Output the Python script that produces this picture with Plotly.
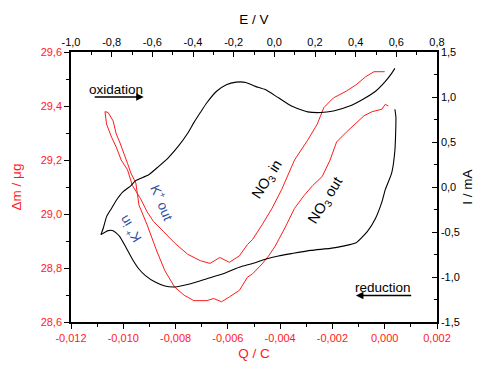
import plotly.graph_objects as go

# EQCM: mass change vs. charge (red, bottom/left axes)
charge_c = [
    0.00000, -0.00041, -0.00072, -0.00109, -0.00147, -0.00196, -0.00233, -0.00258, -0.00295, -0.00345,
    -0.00394, -0.00431, -0.00469, -0.00506, -0.00525, -0.00556, -0.00594, -0.00631, -0.00668, -0.00705,
    -0.00754, -0.00804, -0.00847, -0.00884, -0.00909, -0.00934, -0.00965, -0.00971, -0.00984, -0.01008,
    -0.01027, -0.01045, -0.01064, -0.01070, -0.01058, -0.01039, -0.01027, -0.01014, -0.00996, -0.00984,
    -0.00971, -0.00952, -0.00940, -0.00909, -0.00872, -0.00841, -0.00804, -0.00767, -0.00730, -0.00680,
    -0.00655, -0.00624, -0.00594, -0.00556, -0.00525, -0.00506, -0.00469, -0.00444, -0.00419, -0.00382,
    -0.00345, -0.00308, -0.00276, -0.00239, -0.00209, -0.00184, -0.00147, -0.00109, -0.00079, -0.00048,
    -0.00011, 0.00002, 0.00014,
]
mass_ug = [
    29.527, 29.527, 29.509, 29.479, 29.455, 29.430, 29.394, 29.333, 29.273, 29.200,
    29.091, 29.021, 28.960, 28.905, 28.887, 28.845, 28.821, 28.839, 28.817, 28.827,
    28.851, 28.893, 28.936, 28.972, 29.008, 29.057, 29.105, 29.127, 29.164, 29.200,
    29.248, 29.285, 29.333, 29.379, 29.376, 29.345, 29.297, 29.267, 29.224, 29.188,
    29.152, 29.115, 29.033, 28.960, 28.863, 28.790, 28.730, 28.699, 28.679, 28.679,
    28.687, 28.675, 28.693, 28.717, 28.766, 28.778, 28.815, 28.845, 28.881, 28.948,
    29.021, 29.069, 29.105, 29.139, 29.200, 29.267, 29.303, 29.339, 29.364, 29.379,
    29.388, 29.406, 29.400,
]

# Cyclic voltammogram (black, top/right axes): anodic and cathodic sweeps
e_anodic = [
    -0.853, -0.841, -0.825, -0.801, -0.777, -0.746, -0.705, -0.682, -0.618, -0.570,
    -0.523, -0.475, -0.427, -0.395, -0.364, -0.332, -0.284, -0.236, -0.188, -0.141,
    -0.093, -0.044, 0.020, 0.084, 0.164, 0.227, 0.291, 0.370, 0.434, 0.498,
    0.546, 0.577, 0.593,
]
i_anodic = [
    -0.529, -0.456, -0.329, -0.238, -0.147, -0.057, 0.016, 0.071, 0.136, 0.227,
    0.322, 0.445, 0.595, 0.718, 0.827, 0.936, 1.064, 1.137, 1.165, 1.162,
    1.118, 1.082, 0.991, 0.900, 0.835, 0.827, 0.845, 0.900, 0.973, 1.064,
    1.173, 1.263, 1.318,
]
e_cathodic = [
    0.593, 0.598, 0.593, 0.577, 0.546, 0.529, 0.498, 0.458, 0.402, 0.338,
    0.275, 0.179, 0.084, 0.020, -0.044, -0.107, -0.173, -0.252, -0.332, -0.411,
    -0.491, -0.538, -0.586, -0.634, -0.666, -0.698, -0.729, -0.761, -0.793, -0.817,
    -0.853,
]
i_cathodic = [
    0.864, 0.772, 0.409, 0.155, -0.027, -0.166, -0.347, -0.493, -0.620, -0.657,
    -0.682, -0.704, -0.740, -0.766, -0.802, -0.849, -0.892, -0.965, -1.020, -1.075,
    -1.111, -1.100, -1.056, -0.984, -0.911, -0.802, -0.674, -0.548, -0.485, -0.485,
    -0.529,
]

# Tick values and labels (decimal comma)
q_ticks = [-0.012, -0.010, -0.008, -0.006, -0.004, -0.002, 0.000, 0.002]
q_labels = ["-0,012", "-0,010", "-0,008", "-0,006", "-0,004", "-0,002", "0,000", "0,002"]
m_ticks = [28.6, 28.8, 29.0, 29.2, 29.4, 29.6]
m_labels = ["28,6", "28,8", "29,0", "29,2", "29,4", "29,6"]
e_ticks = [-1.0, -0.8, -0.6, -0.4, -0.2, 0.0, 0.2, 0.4, 0.6, 0.8]
e_labels = ["-1,0", "-0,8", "-0,6", "-0,4", "-0,2", "0,0", "0,2", "0,4", "0,6", "0,8"]
i_ticks = [-1.5, -1.0, -0.5, 0.0, 0.5, 1.0, 1.5]
i_labels = ["-1,5", "-1,0", "-0,5", "0,0", "0,5", "1,0", "1,5"]

RED = "#ff1a1a"
BLUE = "#2f4f9f"
FONT = "Arial, Liberation Sans, sans-serif"

fig = go.Figure()
fig.add_trace(go.Scatter(x=charge_c, y=mass_ug, mode="lines",
                         line=dict(color=RED, width=1), xaxis="x", yaxis="y",
                         showlegend=False))
fig.add_trace(go.Scatter(x=e_anodic, y=i_anodic, mode="lines",
                         line=dict(color="black", width=1.1, shape="spline", smoothing=0.5),
                         xaxis="x2", yaxis="y2", showlegend=False))
fig.add_trace(go.Scatter(x=e_cathodic, y=i_cathodic, mode="lines",
                         line=dict(color="black", width=1.1, shape="spline", smoothing=0.5),
                         xaxis="x2", yaxis="y2", showlegend=False))

axis_common = dict(showline=True, linecolor="black", linewidth=1.5, showgrid=False,
                   zeroline=False, tickcolor="black", tickwidth=1.2, ticklen=5)

fig.update_layout(
    width=485, height=371,
    margin=dict(l=71, r=37, t=52, b=44),
    paper_bgcolor="white", plot_bgcolor="white",
    font=dict(family=FONT, size=11, color="black"),
    xaxis=dict(range=[-0.012, 0.002], tickmode="array", tickvals=q_ticks, ticktext=q_labels,
               ticks="outside", tickfont=dict(color=RED, size=11),
               minor=dict(ticks="outside", dtick=0.001, ticklen=3, tickcolor="black", tickwidth=1.2),
               title=dict(text="Q / C", font=dict(color=RED, size=13.5), standoff=6),
               **axis_common),
    yaxis=dict(range=[28.6, 29.6], tickmode="array", tickvals=m_ticks, ticktext=m_labels,
               ticks="outside", tickfont=dict(color=RED, size=11),
               minor=dict(ticks="outside", dtick=0.1, ticklen=3, tickcolor="black", tickwidth=1.2),
               title=dict(text="Δm / μg", font=dict(color=RED, size=13.5), standoff=16),
               **axis_common),
    xaxis2=dict(range=[-1.0, 0.8], overlaying="x", side="top", anchor="y",
                tickmode="array", tickvals=e_ticks, ticktext=e_labels,
                ticks="inside", tickfont=dict(color="black", size=11),
                minor=dict(ticks="inside", dtick=0.1, ticklen=3, tickcolor="black", tickwidth=1.2),
                title=dict(text="E / V", font=dict(color="black", size=13.5), standoff=8),
                **axis_common),
    yaxis2=dict(range=[-1.5, 1.5], overlaying="y", side="right", anchor="x",
                tickmode="array", tickvals=i_ticks, ticktext=i_labels,
                ticks="inside", tickfont=dict(color="black", size=11),
                minor=dict(ticks="inside", dtick=0.25, ticklen=3, tickcolor="black", tickwidth=1.2),
                title=dict(text="I / mA", font=dict(color="black", size=13.5), standoff=4),
                **axis_common),
)

# Sweep direction labels with arrows
fig.add_annotation(x=-0.01029, y=29.461, xref="x", yref="y", text="oxidation",
                   showarrow=False, font=dict(size=13.5, color="black"))
fig.add_annotation(x=-0.00922, y=29.433, ax=-0.01115, ay=29.433, xref="x", yref="y",
                   axref="x", ayref="y", text="", showarrow=True, arrowhead=2,
                   arrowsize=1, arrowwidth=1.5, arrowcolor="black")
fig.add_annotation(x=-0.00008, y=28.729, xref="x", yref="y", text="reduction",
                   showarrow=False, font=dict(size=13.5, color="black"))
fig.add_annotation(x=-0.00110, y=28.698, ax=0.00107, ay=28.698, xref="x", yref="y",
                   axref="x", ayref="y", text="", showarrow=True, arrowhead=2,
                   arrowsize=1, arrowwidth=1.5, arrowcolor="black")

# Ion-transfer labels
fig.add_annotation(x=-0.00851, y=29.044, xref="x", yref="y", text="K<sup>+</sup> out",
                   showarrow=False, textangle=67, font=dict(size=13.5, color=BLUE))
fig.add_annotation(x=-0.00977, y=28.942, xref="x", yref="y", text="K<sup>+</sup> in",
                   showarrow=False, textangle=-122, font=dict(size=13.5, color=BLUE))
fig.add_annotation(x=-0.00450, y=29.127, xref="x", yref="y", text="NO<sub>3</sub> in",
                   showarrow=False, textangle=-57, font=dict(size=14.5, color="black"))
fig.add_annotation(x=-0.00223, y=29.051, xref="x", yref="y", text="NO<sub>3</sub> out",
                   showarrow=False, textangle=-58, font=dict(size=14.5, color="black"))

fig.write_html("out.html")
